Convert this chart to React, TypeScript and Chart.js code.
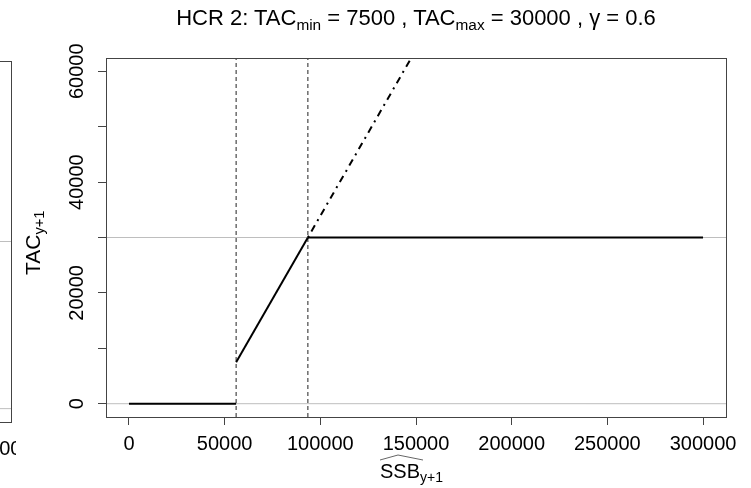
import React, { useEffect, useRef } from "react";
import { Chart, registerables } from "chart.js";

Chart.register(...registerables);

// ---- data ----
const xTicks = [0, 50000, 100000, 150000, 200000, 250000, 300000];
const yTicks = [0, 10000, 20000, 30000, 40000, 50000, 60000];
const yLabelTicks = [0, 20000, 40000, 60000];
const xLimits = [-12000, 312000];
const yLimits = [-2400, 62400];

const ssbBelow = [0, 56000];
const tacBelow = [0, 0];
const ssbRamp = [56000, 93500];
const tacRamp = [7500, 30000];
const ssbCap = [93500, 300000];
const tacCap = [30000, 30000];
const ssbExt = [93500, 150000];
const tacExt = [30000, 63900];
const triggerSSB = [56000, 93500];
const refTAC = [0, 30000];
const leftRefTAC = [0, 30000];
const leftXTicks = [300000];

const FONT = "'Liberation Sans', Arial, Helvetica, sans-serif";

const pts = (xs: number[], ys: number[]) => xs.map((x, i) => ({ x, y: ys[i] }));

const boxPlugin = {
  id: "rbox",
  afterDraw(chart: any) {
    const { ctx, chartArea: a } = chart;
    ctx.save();
    ctx.strokeStyle = "#444";
    ctx.lineWidth = 1;
    ctx.strokeRect(a.left + 0.5, a.top + 0.5, a.right - a.left, a.bottom - a.top);
    ctx.restore();
  },
};

const yLabelPlugin = {
  id: "ylabels",
  afterDraw(chart: any) {
    const scale = chart.scales.y;
    if (!scale || !chart.options.plugins.ylabels?.show) return;
    const { ctx, chartArea: a } = chart;
    ctx.save();
    ctx.fillStyle = "#000";
    ctx.font = `20px ${FONT}`;
    ctx.textAlign = "center";
    ctx.textBaseline = "alphabetic";
    for (const v of yLabelTicks) {
      const py = scale.getPixelForValue(v);
      ctx.save();
      ctx.translate(a.left - 23, py);
      ctx.rotate(-Math.PI / 2);
      ctx.fillText(String(v), 0, 0);
      ctx.restore();
    }
    ctx.restore();
  },
};

const lineDs = (data: any[], color: string, width: number, dash: number[] = []) => ({
  data,
  borderColor: color,
  borderWidth: width,
  borderDash: dash,
  pointRadius: 0,
  fill: false,
  tension: 0,
  clip: 0,
});

const xScale = (ticks: number[], height: number) => ({
  type: "linear",
  min: xLimits[0],
  max: xLimits[1],
  afterBuildTicks: (s: any) => {
    s.ticks = ticks.map((v) => ({ value: v }));
  },
  afterFit: (s: any) => {
    s.height = height;
  },
  grid: { drawOnChartArea: false, drawTicks: true, tickLength: 8, tickColor: "#444", tickWidth: 1 },
  border: { display: false },
  ticks: {
    color: "#000",
    font: { family: FONT, size: 20 },
    padding: 7,
    maxRotation: 0,
    minRotation: 0,
    autoSkip: false,
    callback: (v: any) => String(v),
  },
});

function MainChart() {
  const ref = useRef<HTMLCanvasElement>(null);
  useEffect(() => {
    const chart = new Chart(ref.current!, {
      type: "line",
      data: {
        datasets: [
          lineDs(pts(ssbBelow, tacBelow), "#000", 2),
          lineDs(pts(ssbRamp, tacRamp), "#000", 2),
          lineDs(pts(ssbCap, tacCap), "#000", 2),
          lineDs(pts(ssbExt, tacExt), "#000", 2, [2, 5, 7, 5]),
          ...triggerSSB.map((t) => lineDs(pts([t, t], yLimits), "#222", 1, [4, 3])),
          ...refTAC.map((r) => lineDs(pts(xLimits, [r, r]), "#bebebe", 1)),
        ] as any,
      },
      options: {
        responsive: false,
        maintainAspectRatio: false,
        animation: false,
        devicePixelRatio: 1,
        events: [],
        parsing: false as any,
        layout: { padding: { left: 66, right: 25, top: 58, bottom: 11 } },
        plugins: {
          legend: { display: false },
          tooltip: { enabled: false },
          ylabels: { show: true },
        } as any,
        scales: {
          x: xScale(xTicks, 60) as any,
          y: {
            type: "linear",
            min: yLimits[0],
            max: yLimits[1],
            afterBuildTicks: (s: any) => {
              s.ticks = yTicks.map((v) => ({ value: v }));
            },
            afterFit: (s: any) => {
              s.width = 40;
            },
            grid: { drawOnChartArea: false, drawTicks: true, tickLength: 8, tickColor: "#444", tickWidth: 1 },
            border: { display: false },
            ticks: { display: false },
          },
        },
      },
      plugins: [boxPlugin, yLabelPlugin],
    });
    return () => chart.destroy();
  }, []);
  return (
    <canvas
      ref={ref}
      width={751}
      height={488}
      style={{ position: "absolute", left: 0, top: 0, width: 751, height: 488 }}
    />
  );
}

function LeftPanel() {
  const ref = useRef<HTMLCanvasElement>(null);
  useEffect(() => {
    const chart = new Chart(ref.current!, {
      type: "line",
      data: {
        datasets: leftRefTAC.map((r) => lineDs(pts(xLimits, [r, r]), "#bebebe", 1)) as any,
      },
      options: {
        responsive: false,
        maintainAspectRatio: false,
        animation: false,
        devicePixelRatio: 1,
        events: [],
        parsing: false as any,
        layout: { padding: { left: 0, right: 20, top: 61, bottom: 0 } },
        plugins: { legend: { display: false }, tooltip: { enabled: false } },
        scales: {
          x: xScale(leftXTicks, 66) as any,
          y: { type: "linear", display: false, min: yLimits[0], max: yLimits[1] },
        },
      },
      plugins: [boxPlugin],
    });
    return () => chart.destroy();
  }, []);
  return (
    <div style={{ position: "absolute", left: 0, top: 0, width: 16, height: 488, overflow: "hidden" }}>
      <canvas
        ref={ref}
        width={640}
        height={488}
        style={{ position: "absolute", left: -609, top: 0, width: 640, height: 488 }}
      />
    </div>
  );
}

const subStyle: React.CSSProperties = { fontSize: "0.7em", verticalAlign: "-0.3em", lineHeight: 0 };

export default function App() {
  return (
    <div
      style={{
        position: "fixed",
        left: 0,
        top: 0,
        width: 751,
        height: 488,
        overflow: "hidden",
        background: "#fff",
        fontFamily: FONT,
        color: "#000",
      }}
    >
      <LeftPanel />
      <MainChart />
      <div
        style={{
          position: "absolute",
          left: 416,
          top: 7,
          transform: "translateX(-50%)",
          whiteSpace: "nowrap",
          fontSize: 22,
          lineHeight: "22px",
        }}
      >
        HCR 2: TAC<span style={subStyle}>min</span> = 7500 , TAC<span style={subStyle}>max</span> = 30000 , γ = 0.6
      </div>
      <div
        style={{
          position: "absolute",
          left: 22,
          top: 275,
          transform: "rotate(-90deg)",
          transformOrigin: "0 0",
          whiteSpace: "nowrap",
          fontSize: 21,
          lineHeight: "21px",
        }}
      >
        TAC<span style={subStyle}>y+1</span>
      </div>
      <div
        style={{
          position: "absolute",
          left: 380,
          top: 461,
          whiteSpace: "nowrap",
          fontSize: 20,
          lineHeight: "21px",
        }}
      >
        <span style={{ position: "relative", display: "inline-block" }}>
          <svg
            width={46}
            height={8}
            style={{ position: "absolute", left: -1, top: -7, overflow: "visible" }}
          >
            <polyline points="1,6 19,1 44,6" fill="none" stroke="#666" strokeWidth={1} />
          </svg>
          SSB
        </span>
        <span style={subStyle}>y+1</span>
      </div>
    </div>
  );
}
